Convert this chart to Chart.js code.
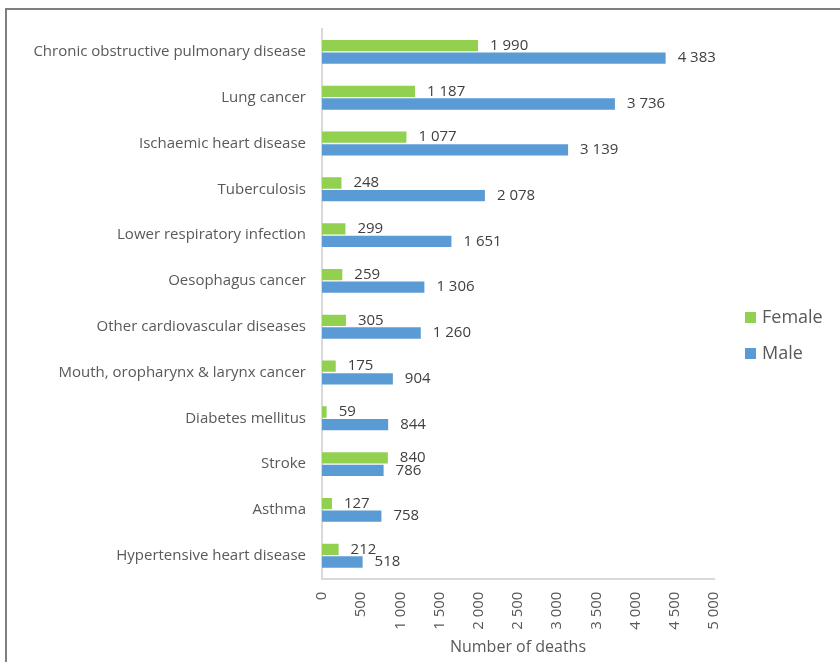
<!DOCTYPE html>
<html>
<head>
<meta charset="utf-8">
<script src="https://cdn.jsdelivr.net/npm/chart.js@4.4.1/dist/chart.umd.min.js"></script>
<style>
  html, body { margin: 0; padding: 0; background: #ffffff; }
  #wrap { position: relative; width: 840px; height: 662px; overflow: hidden; }
  #frame { position: absolute; left: 5px; top: 8px; width: 850px; height: 700px;
           border-top: 2px solid #7f7f7f; border-left: 2px solid #7f7f7f; box-sizing: border-box; }
  canvas { position: absolute; left: 0; top: 0; }
</style>
</head>
<body>
<div id="wrap">
  <div id="frame"></div>
  <canvas id="chart" width="840" height="662"></canvas>
</div>
<script>
// Causes of death, listed top to bottom
const causes = [
  'Chronic obstructive pulmonary disease',
  'Lung cancer',
  'Ischaemic heart disease',
  'Tuberculosis',
  'Lower respiratory infection',
  'Oesophagus cancer',
  'Other cardiovascular diseases',
  'Mouth, oropharynx & larynx cancer',
  'Diabetes mellitus',
  'Stroke',
  'Asthma',
  'Hypertensive heart disease'
];
const femaleDeaths = [1990, 1187, 1077, 248, 299, 259, 305, 175, 59, 840, 127, 212];
const maleDeaths   = [4383, 3736, 3139, 2078, 1651, 1306, 1260, 904, 844, 786, 758, 518];
const axisMin = 0;
const axisMax = 5000;
const axisStep = 500;

// Thousands separated by a space: 4383 -> "4 383"
function spaced(v) {
  return String(v).replace(/\B(?=(\d{3})+(?!\d))/g, ' ');
}

// Writes each bar's value just past its end
const valueLabels = {
  id: 'valueLabels',
  afterDatasetsDraw(chart) {
    const ctx = chart.ctx;
    ctx.save();
    ctx.font = '15px "Open Sans"';
    ctx.fillStyle = '#404040';
    ctx.textAlign = 'left';
    ctx.textBaseline = 'middle';
    chart.data.datasets.forEach((ds, di) => {
      const meta = chart.getDatasetMeta(di);
      meta.data.forEach((bar, i) => {
        ctx.fillText(spaced(ds.data[i]), bar.x + 12, bar.y);
      });
    });
    ctx.restore();
  }
};

// Series key to the right of the plot, one entry per line
const sideLegend = {
  id: 'sideLegend',
  afterDraw(chart) {
    const ctx = chart.ctx;
    const area = chart.chartArea;
    const x = area.right + 31;
    const midY = 335;
    const step = 36;
    const sets = chart.data.datasets;
    ctx.save();
    ctx.font = '18px "Open Sans"';
    ctx.textAlign = 'left';
    ctx.textBaseline = 'middle';
    sets.forEach((ds, i) => {
      const y = midY + (i - (sets.length - 1) / 2) * step;
      ctx.fillStyle = ds.backgroundColor;
      ctx.fillRect(x, y - 5, 11, 11);
      ctx.fillStyle = '#595959';
      ctx.fillText(ds.label, x + 17, y + 1);
    });
    ctx.restore();
  }
};

Chart.defaults.font.family = '"Open Sans", sans-serif';
Chart.defaults.color = '#595959';

new Chart(document.getElementById('chart'), {
  type: 'bar',
  data: {
    labels: causes,
    datasets: [
      { label: 'Female', data: femaleDeaths, backgroundColor: '#92D050',
        categoryPercentage: 0.55, barPercentage: 0.9 },
      { label: 'Male', data: maleDeaths, backgroundColor: '#5B9BD5',
        categoryPercentage: 0.55, barPercentage: 0.9 }
    ]
  },
  options: {
    indexAxis: 'y',
    responsive: false,
    animation: false,
    devicePixelRatio: 1,
    layout: { padding: { top: 29, left: 20, right: 126, bottom: 5 } },
    plugins: {
      legend: { display: false },
      tooltip: { enabled: false }
    },
    scales: {
      x: {
        min: axisMin, max: axisMax,
        grid: { display: false },
        border: { display: true, color: '#d9d9d9', width: 2 },
        ticks: {
          stepSize: axisStep, minRotation: 90, maxRotation: 90, padding: 5,
          font: { size: 15 }, color: '#595959',
          callback: (v) => spaced(v)
        },
        title: { display: true, text: 'Number of deaths', font: { size: 16 },
                 color: '#595959', padding: { top: 3, bottom: 0 } }
      },
      y: {
        grid: { display: false },
        border: { display: true, color: '#d9d9d9', width: 2 },
        ticks: { padding: 8, font: { size: 15 }, color: '#595959', autoSkip: false },
        afterFit(scale) { scale.width = 302; }
      }
    }
  },
  plugins: [valueLabels, sideLegend]
});
</script>
</body>
</html>
